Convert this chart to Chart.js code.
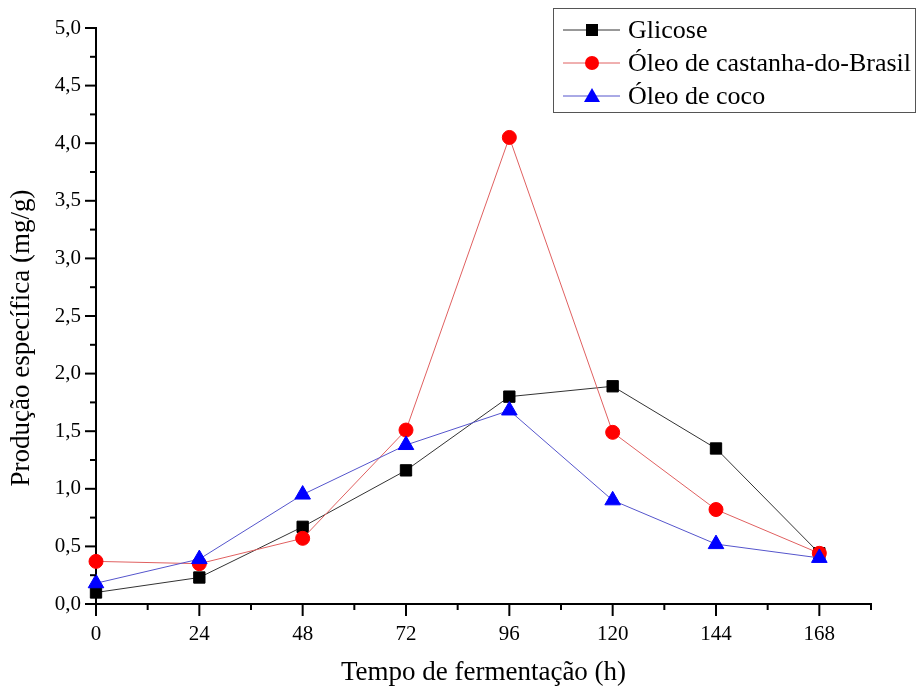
<!DOCTYPE html>
<html>
<head>
<meta charset="utf-8">
<script src="https://cdn.jsdelivr.net/npm/chart.js@4.4.1/dist/chart.umd.min.js"></script>
<style>
  html, body { margin: 0; padding: 0; background: #fff; }
  #wrap { width: 920px; height: 688px; }
</style>
</head>
<body>
<div id="wrap"><canvas id="myChart"></canvas></div>
<script>
// Data
let hours = [0, 24, 48, 72, 96, 120, 144, 168];
let glicose = [0.10, 0.23, 0.67, 1.16, 1.80, 1.89, 1.35, 0.44];
let castanha = [0.37, 0.35, 0.57, 1.51, 4.05, 1.49, 0.82, 0.44];
let coco = [0.18, 0.39, 0.95, 1.38, 1.68, 0.90, 0.52, 0.40];

let seriesNames = ['Glicose', 'Óleo de castanha-do-Brasil', 'Óleo de coco'];
let xTitle = 'Tempo de fermentação (h)';
let yTitle = 'Produção específica (mg/g)';

let serif = "'Liberation Serif', 'Times New Roman', serif";

function toPoints(values) {
    return hours.map((h, i) => ({ x: h, y: values[i] }));
}

// Tick marks (major + minor), axis titles and the boxed legend
let axisDecor = {
    id: 'axisDecor',
    afterDraw(chart) {
        let ctx = chart.ctx;
        let xs = chart.scales.x;
        let ys = chart.scales.y;
        let area = chart.chartArea;
        ctx.save();
        ctx.strokeStyle = '#000';
        ctx.lineWidth = 2;

        // x ticks
        xs.ticks.forEach(t => {
            let px = xs.getPixelForValue(t.value);
            let major = t.value % 24 === 0 && t.value <= 168;
            ctx.beginPath();
            ctx.moveTo(px, area.bottom);
            ctx.lineTo(px, area.bottom + (major ? 12 : 6));
            ctx.stroke();
        });
        // y ticks
        ys.ticks.forEach(t => {
            let py = ys.getPixelForValue(t.value);
            let major = Math.abs(t.value * 2 - Math.round(t.value * 2)) < 1e-6;
            ctx.beginPath();
            ctx.moveTo(area.left, py);
            ctx.lineTo(area.left - (major ? 11 : 6), py);
            ctx.stroke();
        });

        // axis titles
        ctx.fillStyle = '#000';
        ctx.font = '27px ' + serif;
        ctx.textAlign = 'center';
        ctx.textBaseline = 'middle';
        ctx.fillText(xTitle, (area.left + area.right) / 2, 673);
        ctx.save();
        ctx.translate(22, 338);
        ctx.rotate(-Math.PI / 2);
        ctx.fillText(yTitle, 0, 0);
        ctx.restore();

        // legend
        ctx.lineWidth = 1;
        ctx.strokeStyle = '#555';
        ctx.strokeRect(553.5, 8.5, 362, 104);
        let rows = [30, 63, 96];
        chart.data.datasets.forEach((ds, i) => {
            let y = rows[i];
            ctx.strokeStyle = ds.borderColor;
            ctx.lineWidth = 1;
            ctx.beginPath();
            ctx.moveTo(563, y);
            ctx.lineTo(620, y);
            ctx.stroke();
            ctx.fillStyle = ds.pointBackgroundColor;
            ctx.beginPath();
            if (ds.pointStyle === 'rect') {
                ctx.rect(586, y - 6, 12, 12);
            } else if (ds.pointStyle === 'circle') {
                ctx.arc(592, y, 7, 0, Math.PI * 2);
            } else {
                ctx.moveTo(592, y - 8);
                ctx.lineTo(600, y + 6);
                ctx.lineTo(584, y + 6);
                ctx.closePath();
            }
            ctx.fill();
            ctx.fillStyle = '#000';
            ctx.font = '26px ' + serif;
            ctx.textAlign = 'left';
            ctx.textBaseline = 'middle';
            ctx.fillText(ds.label, 628, y + 1);
        });
        ctx.restore();
    }
};

new Chart(document.getElementById('myChart'), {
    type: 'line',
    data: {
        datasets: [
            {
                label: seriesNames[0],
                data: toPoints(glicose),
                borderColor: '#333333',
                backgroundColor: '#000000',
                pointBackgroundColor: '#000000',
                pointBorderColor: '#000000',
                pointStyle: 'rect',
                pointRadius: 8,
                borderWidth: 1,
                order: 3
            },
            {
                label: seriesNames[1],
                data: toPoints(castanha),
                borderColor: '#e06060',
                backgroundColor: '#ff0000',
                pointBackgroundColor: '#ff0000',
                pointBorderColor: '#ff0000',
                pointStyle: 'circle',
                pointRadius: 7,
                borderWidth: 1,
                order: 2
            },
            {
                label: seriesNames[2],
                data: toPoints(coco),
                borderColor: '#5555cc',
                backgroundColor: '#0000ff',
                pointBackgroundColor: '#0000ff',
                pointBorderColor: '#0000ff',
                pointStyle: 'triangle',
                pointRadius: 9,
                borderWidth: 1,
                order: 1
            }
        ]
    },
    options: {
        responsive: true,
        maintainAspectRatio: false,
        animation: false,
        layout: { padding: { top: 28, right: 49, left: 0, bottom: 0 } },
        plugins: {
            legend: { display: false },
            tooltip: { enabled: false }
        },
        elements: {
            line: { tension: 0 },
            point: { borderWidth: 0 }
        },
        datasets: { line: { clip: false } },
        scales: {
            x: {
                type: 'linear',
                min: 0,
                max: 180,
                afterFit: s => { s.height = 84; },
                border: { display: true, color: '#000', width: 2 },
                grid: { display: false, drawTicks: false },
                ticks: {
                    stepSize: 12,
                    padding: 18,
                    color: '#000',
                    font: { family: serif, size: 21 },
                    maxRotation: 0,
                    autoSkip: false,
                    callback: v => (v % 24 === 0 && v <= 168) ? String(v) : ''
                }
            },
            y: {
                min: 0,
                max: 5,
                afterFit: s => { s.width = 96; },
                border: { display: true, color: '#000', width: 2 },
                grid: { display: false, drawTicks: false },
                ticks: {
                    stepSize: 0.25,
                    padding: 15,
                    color: '#000',
                    font: { family: serif, size: 21 },
                    autoSkip: false,
                    callback: v => {
                        let twice = v * 2;
                        if (Math.abs(twice - Math.round(twice)) > 1e-6) return '';
                        return v.toFixed(1).replace('.', ',');
                    }
                }
            }
        }
    },
    plugins: [axisDecor]
});
</script>
</body>
</html>
